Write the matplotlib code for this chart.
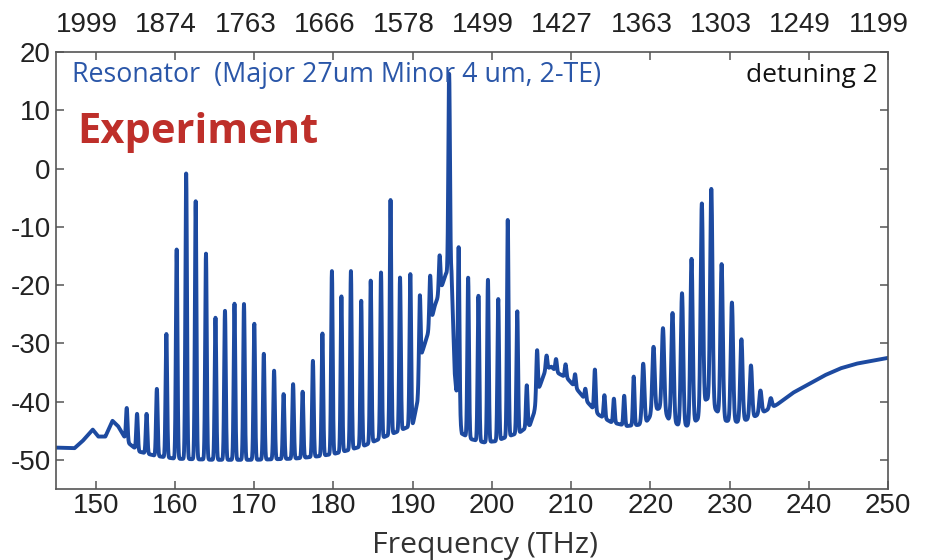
import numpy as np
import matplotlib.pyplot as plt
from matplotlib.transforms import ScaledTranslation

plt.rcParams['axes.unicode_minus'] = False

# background level of the spectrum (THz, dB)
base_f = [145.0, 147.3, 148.3, 149.6, 150.3, 151.2, 152.1, 152.8, 154.0, 155.5, 157.5,
          160.0, 165.0, 170.0, 175.0, 178.0, 180.0, 182.0, 184.0, 186.0, 188.0, 190.0,
          190.6, 191.2, 192.0, 192.8, 193.6, 194.2, 194.9, 195.3, 195.6, 196.2, 197.5,
          199.0, 200.5, 202.0, 203.5, 204.8, 205.3, 206.0, 206.8, 207.5, 208.2, 209.5,
          210.5, 212.0, 213.5, 215.0, 217.0, 218.5, 219.5, 220.5, 221.5, 222.3, 223.5,
          225.0, 226.0, 227.1, 228.3, 229.5, 231.0, 232.5, 234.0, 236.0, 238.0, 240.0,
          242.0, 244.0, 246.0, 248.0, 250.0]
base_db = [-47.9, -48.0, -46.8, -44.8, -46.0, -46.0, -43.3, -44.2, -47.0, -48.6, -49.3,
           -49.8, -50.0, -50.0, -49.8, -49.4, -49.0, -48.3, -47.5, -46.3, -45.2, -44.0,
           -40.0, -31.5, -28.0, -23.5, -20.5, -18.0, -18.0, -35.0, -40.0, -45.5, -46.5,
           -47.0, -46.8, -46.0, -45.3, -44.0, -42.0, -37.5, -34.5, -34.0, -35.0, -36.0,
           -37.5, -40.0, -42.3, -43.5, -44.2, -44.0, -43.5, -41.5, -41.0, -43.0, -44.0,
           -44.2, -43.0, -39.5, -41.5, -43.3, -43.5, -43.0, -42.0, -40.5, -38.5, -37.0,
           -35.5, -34.3, -33.5, -33.0, -32.5]

# comb lines: centre frequency (THz) and peak level (dB)
peak_f = [153.9, 155.2, 156.4, 157.7, 158.9, 160.2, 161.4, 162.6, 163.9, 165.1,
          166.3, 167.5, 168.7, 170.0, 171.2, 172.5, 173.7, 174.9, 176.1, 177.4,
          178.6, 179.8, 181.0, 182.2, 183.5, 184.7, 186.0, 187.2, 188.4, 189.7,
          190.9, 192.2, 193.4, 194.6, 195.8, 197.0, 198.3, 199.5, 200.8, 202.0,
          203.2, 204.4, 205.7, 206.9, 208.1, 209.3, 210.5, 211.8, 213.0, 214.2,
          215.4, 216.7, 217.9, 219.1, 220.4, 221.6, 222.8, 224.0, 225.2, 226.5,
          227.7, 229.0, 230.3, 231.5, 232.7, 233.9, 235.2]
peak_db = [-41.1, -42.1, -42.1, -37.8, -28.4, -13.9, -0.8, -5.6, -14.6, -25.6,
           -24.4, -23.2, -23.2, -26.6, -31.8, -34.7, -38.7, -37.0, -38.3, -33.0,
           -28.3, -17.6, -21.9, -17.6, -22.7, -19.2, -17.8, -5.4, -18.7, -18.1,
           -21.8, -18.4, -14.9, 16.3, -13.5, -18.7, -21.8, -19.1, -22.4, -8.8,
           -24.5, -37.2, -31.2, -32.1, -32.7, -33.6, -35.3, -37.8, -34.5, -38.9,
           -39.5, -39.0, -35.7, -33.5, -30.6, -27.4, -24.8, -21.4, -15.5, -6.0,
           -3.5, -16.4, -23.0, -29.3, -33.8, -38.1, -39.4]

freq_ticks = [150, 160, 170, 180, 190, 200, 210, 220, 230, 240, 250]
wl_labels = ['1999', '1874', '1763', '1666', '1578', '1499', '1427', '1363', '1303', '1249', '1199']
y_ticks = [-50, -40, -30, -20, -10, 0, 10, 20]

# === Build spectrum ===
f = np.linspace(145, 250, 8000)
spec = np.interp(f, base_f, base_db)
for fi, hi in zip(peak_f, peak_db):
    b = np.interp(fi, base_f, base_db)
    w = 0.15 if fi > 219 else 0.1
    spec = spec + (hi - b) * np.exp(-0.5 * ((f - fi) / w) ** 2)

# === Plot ===
blue = '#1d4aa0'
fig = plt.figure(figsize=(9.3, 5.6), dpi=100)
ax = fig.add_axes([0.0605, 0.1268, 0.8943, 0.7804])
ax.plot(f, spec, color=blue, lw=2.8, solid_joinstyle='round')

ax.set_xlim(145, 250)
ax.set_ylim(-55, 20)
ax.set_xticks(freq_ticks)
ax.set_yticks(y_ticks)
ax.tick_params(direction='in', length=6, width=1.1, color='#555555',
               labelsize=20, labelcolor='#222222', right=True)
ax.tick_params(axis='x', pad=3)
ax.tick_params(axis='y', pad=4)
for lab in ax.get_xticklabels() + ax.get_yticklabels():
    lab.set_family('Liberation Sans')
for sp in ax.spines.values():
    sp.set_color('#555555')
    sp.set_linewidth(1.2)

# wavelength (nm) along the top
top = ax.twiny()
top.set_xlim(ax.get_xlim())
top.set_xticks(freq_ticks)
top.set_xticklabels(wl_labels, family='Liberation Sans')
top.tick_params(direction='in', length=6, width=1.1, color='#555555',
                labelsize=20, labelcolor='#222222', pad=10)
for lab in top.get_xticklabels():
    lab.set_transform(lab.get_transform() + ScaledTranslation(-9 / 100, 0, fig.dpi_scale_trans))
for sp in top.spines.values():
    sp.set_visible(False)

ax.set_xlabel('Frequency (THz)', family='Open Sans', fontsize=21.8, color='#333333')
ax.xaxis.set_label_coords(0.515, -0.095)
fig.text(3 / 930, 0.541, 'Power (dBm)', rotation=90, ha='right', va='center',
         family='Open Sans', fontsize=20, color='#222222')

ax.text(0.019, 0.931, 'Resonator  (Major 27um Minor 4 um, 2-TE)', transform=ax.transAxes,
        family='Open Sans', fontsize=19.3, color='#2a56a8', va='baseline', ha='left')
ax.text(0.025, 0.792, 'Experiment', transform=ax.transAxes, family='Open Sans',
        fontweight='bold', fontsize=30, color='#be2f2a', va='baseline', ha='left')
ax.text(0.988, 0.931, 'detuning 2', transform=ax.transAxes, family='Open Sans',
        fontsize=19, color='#111111', va='baseline', ha='right')

fig.savefig('out.png', dpi=100)
